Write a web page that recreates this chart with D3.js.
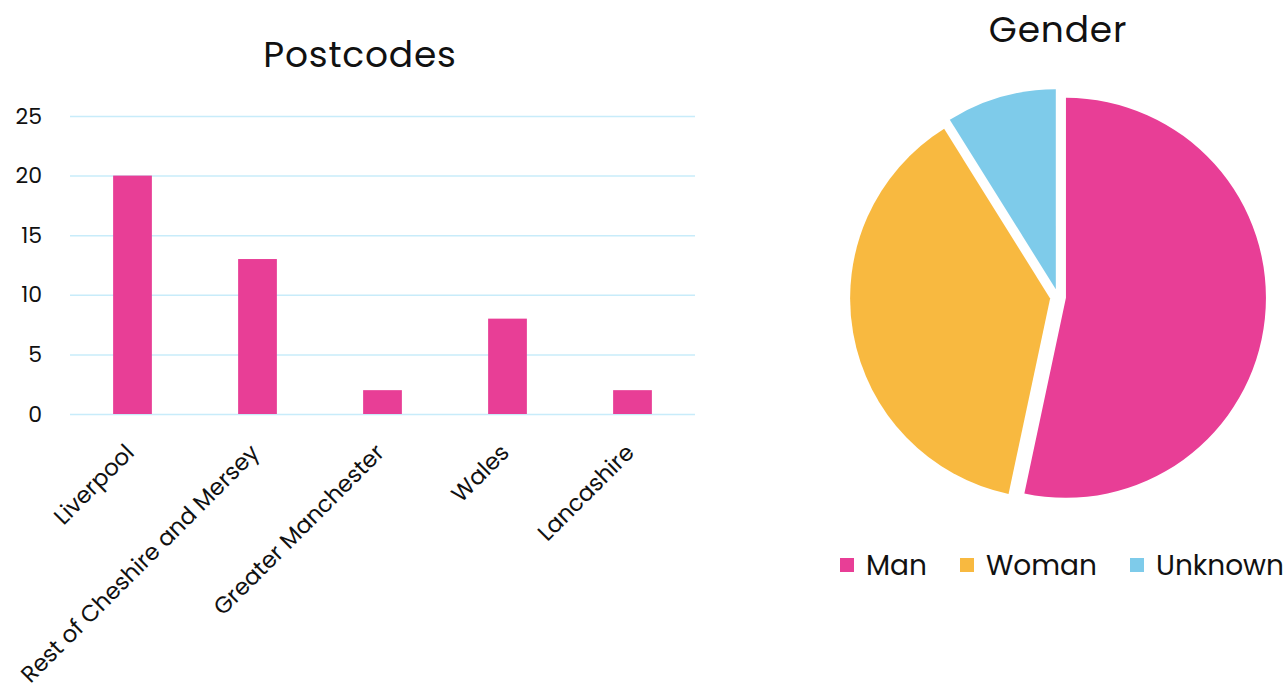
<!DOCTYPE html>
<html>
<head>
<meta charset="utf-8">
<script src="https://cdn.jsdelivr.net/npm/d3@7"></script>
<style>
  body { margin: 0; background: #fff; }
  svg text { fill: #111; }
</style>
</head>
<body>
<div id="chart"></div>
<script>
(function(){

  var width = 1284, height = 695;

  var postcodes = ["Liverpool", "Rest of Cheshire and Mersey", "Greater Manchester", "Wales", "Lancashire"];
  var postcodeCounts = [20, 13, 2, 8, 2];
  var yTicks = [0, 5, 10, 15, 20, 25];

  var genders = ["Man", "Woman", "Unknown"];
  var genderCounts = [24, 17, 4];
  var genderColors = ["#e83e96", "#f8b940", "#7ecbea"];

  var font = "Poppins, 'Open Sans', sans-serif";

  var svg = d3.select("#chart").append("svg")
      .attr("width", width)
      .attr("height", height);

  // bar chart -------------------------------------------------
  var x = d3.scaleBand()
      .domain(postcodes)
      .range([70, 695])
      .paddingInner(0.69)
      .paddingOuter(0.345);

  var y = d3.scaleLinear()
      .domain([0, 25])
      .range([414, 116]);

  svg.append("text")
      .attr("x", 360)
      .attr("y", 67)
      .attr("text-anchor", "middle")
      .style("font-family", font)
      .style("font-size", "36px")
      .style("letter-spacing", "0.8px")
      .text("Postcodes");

  var yAxis = svg.append("g")
      .attr("transform", "translate(70,0)")
      .call(d3.axisLeft(y).tickValues(yTicks).tickSize(-625).tickPadding(28));
  yAxis.select(".domain").remove();
  yAxis.selectAll(".tick line").attr("stroke", "#c8ecfa").attr("stroke-width", 1.5);
  yAxis.selectAll(".tick text")
      .style("font-family", font)
      .style("font-size", "22px")
      .attr("fill", "#111");

  svg.selectAll(".bar")
      .data(postcodeCounts)
    .enter().append("rect")
      .attr("class", "bar")
      .attr("x", function(d, i){ return x(postcodes[i]); })
      .attr("width", x.bandwidth())
      .attr("y", function(d){ return y(d); })
      .attr("height", function(d){ return y(0) - y(d); })
      .attr("fill", "#e83e96");

  svg.selectAll(".xlabel")
      .data(postcodes)
    .enter().append("text")
      .attr("class", "xlabel")
      .attr("text-anchor", "end")
      .attr("transform", function(d){
        return "translate(" + (x(d) + x.bandwidth() / 2 + 3) + ",454) rotate(-45)";
      })
      .style("font-family", font)
      .style("font-size", "23px")
      .text(function(d){ return d; });

  // pie chart -------------------------------------------------
  var cx = 1058, cy = 297, radius = 200, explode = 8;

  svg.append("text")
      .attr("x", cx)
      .attr("y", 42)
      .attr("text-anchor", "middle")
      .style("font-family", font)
      .style("font-size", "36px")
      .style("letter-spacing", "0.8px")
      .text("Gender");

  var pie = d3.pie().sort(null);
  var arc = d3.arc().innerRadius(0).outerRadius(radius);

  var pg = svg.append("g").attr("transform", "translate(" + cx + "," + cy + ")");

  pg.selectAll(".slice")
      .data(pie(genderCounts))
    .enter().append("path")
      .attr("class", "slice")
      .attr("d", arc)
      .attr("fill", function(d, i){ return genderColors[i]; })
      .attr("transform", function(d){
        var a = (d.startAngle + d.endAngle) / 2;
        return "translate(" + (explode * Math.sin(a)) + "," + (-explode * Math.cos(a)) + ")";
      });

  // legend
  var legendX = [840, 960, 1130];
  var lg = svg.selectAll(".legend")
      .data(genders)
    .enter().append("g")
      .attr("class", "legend")
      .attr("transform", function(d, i){ return "translate(" + legendX[i] + ",558)"; });

  lg.append("rect")
      .attr("width", 14)
      .attr("height", 14)
      .attr("fill", function(d, i){ return genderColors[i]; });

  lg.append("text")
      .attr("x", 26)
      .attr("y", 17)
      .style("font-family", font)
      .style("font-size", "28px")
      .text(function(d){ return d; });

})();
</script>
</body>
</html>
